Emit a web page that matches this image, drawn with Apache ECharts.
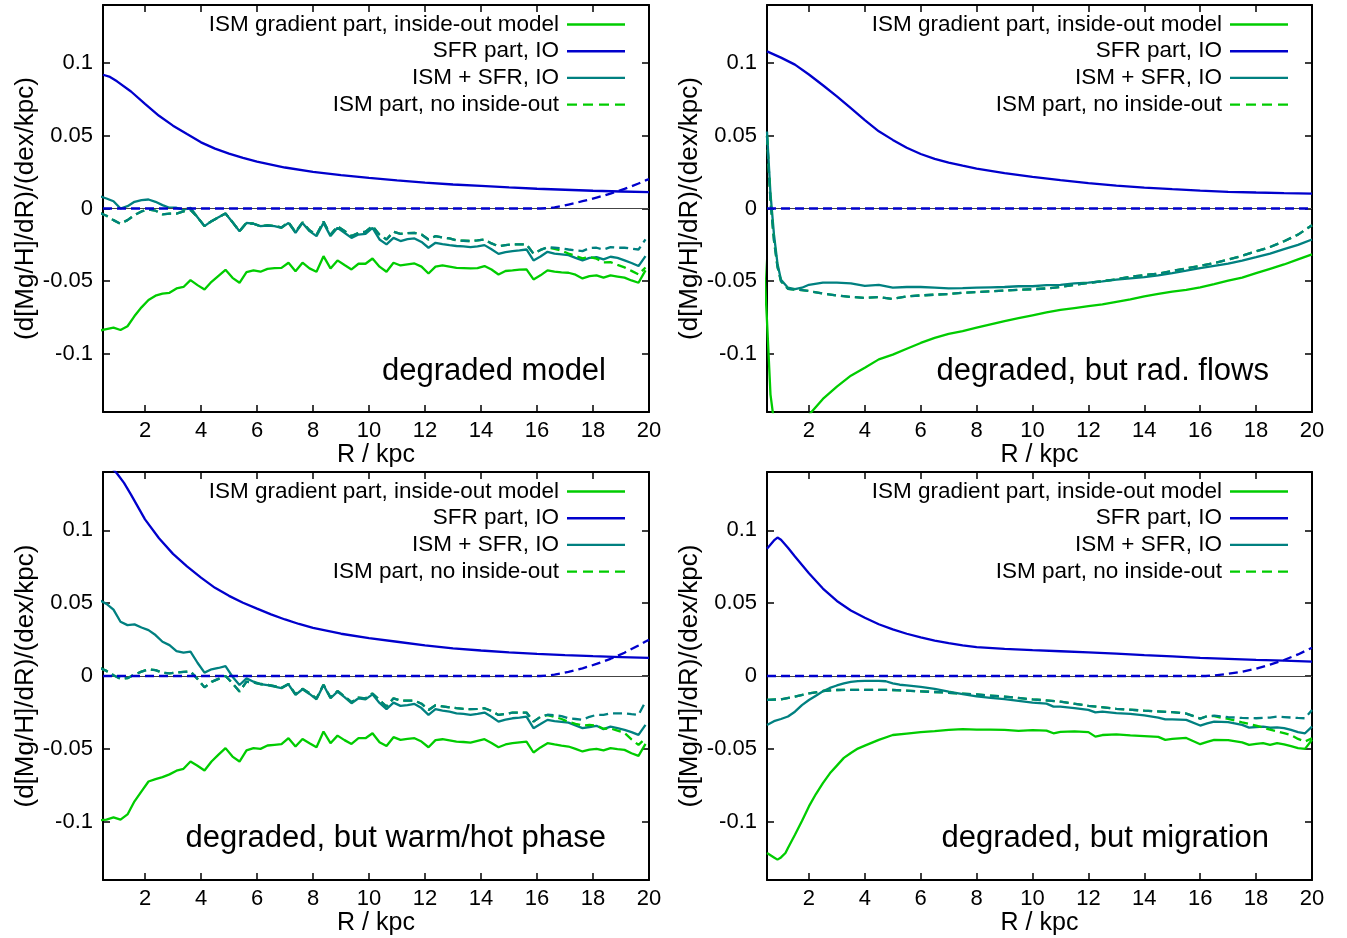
<!DOCTYPE html>
<html><head><meta charset="utf-8">
<script src="https://cdn.jsdelivr.net/npm/echarts@6/dist/echarts.min.js"></script>
<style>html,body{margin:0;padding:0;background:#fff}#c{width:1347px;height:938px}</style>
</head><body><div id="c"></div>
<script>
// ---- tick labels ----
const X_TICKS = [2, 4, 6, 8, 10, 12, 14, 16, 18, 20];
const Y_TICKS = [-0.1, -0.05, 0, 0.05, 0.1];

// ---- series names ----
const N_ISM = 'ISM gradient part, inside-out model';
const N_SFR = 'SFR part, IO';
const N_SUM = 'ISM + SFR, IO';
const N_ISMNO = 'ISM part, no inside-out';
const N_SUMNO = 'ISM + SFR, no inside-out';
const N_SFRNO = 'SFR part, no inside-out';

const PANEL_LABELS = ['degraded model', 'degraded, but rad. flows', 'degraded, but warm/hot phase', 'degraded, but migration'];

// ---- radial grid (kpc) for the jagged profiles of panels 1 and 3 ----
const R = [
 0.375,0.625,0.875,1.125,1.375,1.625,1.875,2.125,2.375,2.625,
 2.875,3.125,3.375,3.625,3.875,4.125,4.375,4.625,4.875,5.125,
 5.375,5.625,5.875,6.125,6.375,6.625,6.875,7.125,7.375,7.625,
 7.875,8.125,8.375,8.625,8.875,9.125,9.375,9.625,9.875,10.125,
 10.375,10.625,10.875,11.125,11.375,11.625,11.875,12.125,12.375,12.625,
 12.875,13.125,13.375,13.625,13.875,14.125,14.375,14.625,14.875,15.125,
 15.375,15.625,15.875,16.125,16.375,16.625,16.875,17.125,17.375,17.625,
 17.875,18.125,18.375,18.625,18.875,19.125,19.375,19.625,19.875];

// ---- panel 1: degraded model ----
const P1_ISM = [
 -0.084,-0.083,-0.082,-0.0836,-0.081,-0.074,-0.068,-0.063,-0.060,-0.0586,
 -0.058,-0.055,-0.054,-0.0493,-0.0527,-0.0557,-0.0504,-0.0463,-0.0422,-0.0477,
 -0.0511,-0.0438,-0.0426,-0.0435,-0.0415,-0.041,-0.0408,-0.0373,-0.0431,-0.0373,
 -0.0412,-0.0435,-0.0328,-0.0412,-0.0357,-0.0389,-0.0419,-0.038,-0.038,-0.0344,
 -0.040,-0.0435,-0.0373,-0.0392,-0.0385,-0.0378,-0.040,-0.0447,-0.040,-0.0392,
 -0.040,-0.0408,-0.041,-0.0412,-0.041,-0.0396,-0.042,-0.0454,-0.043,-0.0426,
 -0.042,-0.0419,-0.0488,-0.046,-0.0426,-0.0435,-0.044,-0.0442,-0.0455,-0.0481,
 -0.0465,-0.046,-0.0476,-0.046,-0.0468,-0.0476,-0.0495,-0.0511,-0.0426];
const P1_SUM = [
 0.0085,0.0069,0.005,0.000,0.0016,0.0046,0.0057,0.0062,0.0046,0.0023,
 0.0005,0.0005,-0.0007,0.0005,-0.006,-0.0121,-0.0087,-0.006,-0.0034,-0.0094,
 -0.0156,-0.0099,-0.0105,-0.0121,-0.0117,-0.0121,-0.0133,-0.0099,-0.0167,-0.0099,
 -0.0156,-0.019,-0.0099,-0.019,-0.0133,-0.0167,-0.0202,-0.0179,-0.0174,-0.0133,
 -0.0213,-0.0247,-0.0202,-0.0224,-0.021,-0.0206,-0.023,-0.027,-0.0236,-0.0245,
 -0.0252,-0.0258,-0.026,-0.0266,-0.026,-0.0252,-0.028,-0.0312,-0.030,-0.0293,
 -0.0288,-0.0282,-0.0357,-0.033,-0.0298,-0.031,-0.0315,-0.0321,-0.034,-0.0357,
 -0.034,-0.0334,-0.035,-0.0332,-0.034,-0.0357,-0.0375,-0.0396,-0.0328];
const P1_SUMNO = [
 -0.003,-0.005,-0.008,-0.0105,-0.008,-0.0045,-0.002,-0.0007,-0.0015,-0.004,
 -0.0035,-0.0035,-0.002,-0.001,-0.006,-0.0121,-0.0087,-0.006,-0.0034,-0.0094,
 -0.0156,-0.0099,-0.0105,-0.0121,-0.0117,-0.0121,-0.013,-0.0095,-0.0162,-0.0095,
 -0.015,-0.0182,-0.009,-0.018,-0.0122,-0.0155,-0.019,-0.0167,-0.016,-0.012,
 -0.018,-0.0213,-0.016,-0.0174,-0.017,-0.0167,-0.0179,-0.0213,-0.019,-0.0199,
 -0.0206,-0.022,-0.0222,-0.0224,-0.022,-0.0213,-0.024,-0.0259,-0.0252,-0.0247,
 -0.0247,-0.0247,-0.0311,-0.0285,-0.0266,-0.027,-0.0274,-0.0282,-0.0288,-0.0293,
 -0.0272,-0.027,-0.0282,-0.0266,-0.027,-0.027,-0.0276,-0.0282,-0.0213];
const P1_ISMNO = [
 -0.003,-0.005,-0.008,-0.0105,-0.008,-0.0045,-0.002,-0.0007,-0.0015,-0.004,
 -0.0035,-0.0035,-0.002,-0.001,-0.006,-0.0121,-0.0087,-0.006,-0.0034,-0.0094,
 -0.0156,-0.0099,-0.0105,-0.0121,-0.0117,-0.0121,-0.013,-0.0095,-0.0162,-0.0095,
 -0.015,-0.0182,-0.009,-0.018,-0.0122,-0.0155,-0.019,-0.0167,-0.016,-0.012,
 -0.018,-0.0213,-0.016,-0.0174,-0.017,-0.0167,-0.0179,-0.0213,-0.019,-0.0199,
 -0.0206,-0.022,-0.0222,-0.0224,-0.022,-0.0213,-0.024,-0.0259,-0.0252,-0.0247,
 -0.0247,-0.0247,-0.0311,-0.0285,-0.0268,-0.0278,-0.029,-0.031,-0.0326,-0.0343,
 -0.0334,-0.0345,-0.037,-0.0369,-0.0388,-0.0405,-0.0429,-0.0454,-0.0406];
const P1_SFR = [[0.5,0.092],[0.75,0.0905],[1,0.0875],[1.5,0.0805],[2,0.072],[2.5,0.0638],[3,0.057],[3.5,0.0512],
 [4,0.0455],[4.5,0.0412],[5,0.0378],[5.5,0.0348],[6,0.0322],[7,0.0282],[8,0.0252],[9,0.0229],[10,0.021],
 [11,0.0193],[12,0.0178],[13,0.0165],[14,0.0155],[15,0.0145],[16,0.0136],[17,0.0129],[18,0.0122],[19,0.0117],[20,0.0112]];
const P1_SFRNO = [[0.5,0],[16.125,0],[16.375,0.0002],[16.625,0.0008],[16.875,0.0016],[17.125,0.0027],[17.375,0.0038],
 [17.625,0.005],[17.875,0.0062],[18.125,0.0075],[18.375,0.0088],[18.625,0.0103],[18.875,0.0118],[19.125,0.0135],
 [19.375,0.0153],[19.625,0.0172],[19.875,0.0193],[20,0.0202]];

// ---- panel 2: degraded, but rad. flows ----
const P2_ISM = [[0.375,-0.03],[0.5,-0.0775],[0.625,-0.128],[0.875,-0.165],[1.25,-0.175],[1.5,-0.168],[2,-0.142],
 [2.5,-0.131],[3,-0.1225],[3.5,-0.115],[4,-0.1095],[4.5,-0.1038],[5,-0.1005],[5.5,-0.0965],[6,-0.0925],
 [6.5,-0.089],[7,-0.0862],[7.5,-0.0843],[8,-0.082],[8.5,-0.0797],[9,-0.0775],[9.5,-0.0755],[10,-0.0735],
 [10.5,-0.0715],[11,-0.0698],[11.5,-0.0685],[12,-0.0672],[12.5,-0.066],[13,-0.0642],[13.5,-0.0625],[14,-0.0605],
 [14.5,-0.0588],[15,-0.0572],[15.5,-0.056],[16,-0.0542],[16.5,-0.052],[17,-0.0497],[17.5,-0.0475],[18,-0.0445],
 [18.5,-0.0415],[19,-0.0385],[19.5,-0.035],[20,-0.0316]];
const P2_SUM = [[0.5,0.053],[0.625,0.01],[0.75,-0.018],[0.875,-0.038],[1,-0.049],[1.25,-0.0545],[1.5,-0.0555],
 [1.75,-0.0545],[2,-0.0525],[2.5,-0.051],[3,-0.051],[3.5,-0.0515],[4,-0.0532],[4.5,-0.0525],[5,-0.0545],
 [5.5,-0.054],[6,-0.054],[6.5,-0.0545],[7,-0.055],[7.5,-0.0548],[8,-0.0545],[8.5,-0.0542],[9,-0.054],
 [9.5,-0.0535],[10,-0.0535],[10.5,-0.0527],[11,-0.0525],[11.5,-0.0515],[12,-0.051],[12.5,-0.0502],[13,-0.049],
 [13.5,-0.048],[14,-0.0472],[14.5,-0.046],[15,-0.0445],[15.5,-0.0428],[16,-0.041],[16.5,-0.0395],[17,-0.038],
 [17.5,-0.0358],[18,-0.0335],[18.5,-0.031],[19,-0.028],[19.5,-0.025],[20,-0.0213]];
const P2_SUMNO = [[0.5,0.05],[0.625,0.005],[0.75,-0.022],[0.875,-0.04],[1,-0.05],[1.25,-0.0552],[1.5,-0.0558],
 [1.75,-0.0562],[2,-0.0568],[2.5,-0.0585],[3,-0.0598],[3.5,-0.0608],[4,-0.0615],[4.5,-0.061],[5,-0.0622],
 [5.5,-0.0605],[6,-0.0598],[6.5,-0.0593],[7,-0.0588],[7.5,-0.058],[8,-0.0575],[8.5,-0.057],[9,-0.0565],
 [9.5,-0.056],[10,-0.0555],[10.5,-0.055],[11,-0.054],[11.5,-0.0525],[12,-0.0512],[12.5,-0.05],[13,-0.0487],
 [13.5,-0.047],[14,-0.0458],[14.5,-0.0448],[15,-0.043],[15.5,-0.0412],[16,-0.0395],[16.5,-0.0375],[17,-0.0352],
 [17.5,-0.0325],[18,-0.0295],[18.5,-0.0265],[19,-0.0225],[19.5,-0.018],[20,-0.0115]];
const P2_ISMNO = [[0.5,0.05],[0.625,0.005],[0.75,-0.022],[0.875,-0.04],[1,-0.05],[1.25,-0.0552],[1.5,-0.0558],
 [1.75,-0.0562],[2,-0.0568],[2.5,-0.0585],[3,-0.0598],[3.5,-0.0608],[4,-0.0615],[4.5,-0.061],[5,-0.0622],
 [5.5,-0.0605],[6,-0.0598],[6.5,-0.0593],[7,-0.0588],[7.5,-0.058],[8,-0.0575],[8.5,-0.057],[9,-0.0565],
 [9.5,-0.056],[10,-0.0555],[10.5,-0.055],[11,-0.054],[11.5,-0.0525],[12,-0.0512],[12.5,-0.05],[13,-0.0487],
 [13.5,-0.047],[14,-0.0458],[14.5,-0.0448],[15,-0.043],[15.5,-0.0412],[16,-0.0395],[16.5,-0.0375],[17,-0.0352],
 [17.5,-0.0325],[18,-0.0295],[18.5,-0.0265],[19,-0.0225],[19.5,-0.018],[20,-0.0115]];
const P2_SFR = [[0.5,0.1081],[1,0.1038],[1.5,0.099],[2,0.0922],[2.5,0.0848],[3,0.0772],[3.5,0.069],[4,0.0608],
 [4.5,0.0531],[5,0.0472],[5.5,0.0418],[6,0.0375],[6.5,0.0342],[7,0.0316],[7.5,0.0295],[8,0.0275],[9,0.0243],
 [10,0.0217],[11,0.0195],[12,0.0175],[13,0.0158],[14,0.0144],[15,0.0133],[16,0.0123],[17,0.0115],[18,0.011],
 [19,0.0106],[20,0.0103]];
const P2_SFRNO = [[0.5,0],[20,0]];

// ---- panel 3: degraded, but warm/hot phase ----
const P3_ISM = [
 -0.099,-0.0985,-0.097,-0.0986,-0.095,-0.086,-0.0792,-0.0724,-0.0708,-0.0694,
 -0.0675,-0.065,-0.0637,-0.0587,-0.0616,-0.0648,-0.0587,-0.054,-0.0495,-0.0553,
 -0.0587,-0.0511,-0.0495,-0.050,-0.0477,-0.0472,-0.0468,-0.0427,-0.0484,-0.0432,
 -0.0461,-0.0489,-0.0381,-0.0461,-0.0409,-0.044,-0.0466,-0.0427,-0.0427,-0.0393,
 -0.0455,-0.048,-0.042,-0.0438,-0.0432,-0.0427,-0.045,-0.0489,-0.044,-0.0434,
 -0.0442,-0.045,-0.0453,-0.0457,-0.0445,-0.0434,-0.046,-0.0489,-0.047,-0.0461,
 -0.0455,-0.045,-0.0525,-0.049,-0.0461,-0.047,-0.0478,-0.0484,-0.050,-0.0518,
 -0.0505,-0.050,-0.0511,-0.0495,-0.0502,-0.0507,-0.053,-0.0548,-0.0466];
const P3_SUM = [
 0.052,0.0495,0.0455,0.0372,0.0349,0.0354,0.0333,0.0315,0.0281,0.0235,
 0.0212,0.0171,0.016,0.0167,0.0091,0.0023,0.0046,0.0055,0.0068,-0.0005,
 -0.0062,-0.0016,-0.0039,-0.0055,-0.0062,-0.0073,-0.0084,-0.0057,-0.013,-0.0091,
 -0.0123,-0.016,-0.0062,-0.0153,-0.0107,-0.0145,-0.0187,-0.0153,-0.016,-0.0126,
 -0.0185,-0.0228,-0.0183,-0.0205,-0.020,-0.0192,-0.022,-0.0267,-0.0228,-0.0238,
 -0.0245,-0.0256,-0.026,-0.0267,-0.026,-0.0251,-0.028,-0.0313,-0.030,-0.029,
 -0.0285,-0.0279,-0.0358,-0.033,-0.0301,-0.031,-0.0315,-0.032,-0.034,-0.0358,
 -0.035,-0.0342,-0.0365,-0.0347,-0.0358,-0.037,-0.0385,-0.0404,-0.0336];
const P3_SUMNO = [
 0.0055,0.0035,0.0005,-0.002,-0.0015,0.001,0.003,0.0046,0.004,0.0023,
 0.0018,0.0023,0.0028,0.003,-0.002,-0.0078,-0.004,-0.002,0.0,-0.005,
 -0.0107,-0.0039,-0.0045,-0.0055,-0.006,-0.007,-0.008,-0.0055,-0.0125,-0.0088,
 -0.0118,-0.0155,-0.006,-0.0148,-0.0103,-0.014,-0.018,-0.0148,-0.0153,-0.012,
 -0.0165,-0.021,-0.0153,-0.0169,-0.0169,-0.0169,-0.019,-0.0233,-0.0201,-0.0208,
 -0.0215,-0.0221,-0.0225,-0.0228,-0.0225,-0.0221,-0.024,-0.0267,-0.026,-0.0251,
 -0.0251,-0.0251,-0.0313,-0.028,-0.0266,-0.027,-0.0275,-0.029,-0.0295,-0.0301,
 -0.028,-0.0267,-0.0267,-0.0256,-0.0256,-0.0256,-0.0262,-0.0267,-0.0176];
const P3_ISMNO = [
 0.0055,0.0035,0.0005,-0.002,-0.0015,0.001,0.003,0.0046,0.004,0.0023,
 0.0018,0.0023,0.0028,0.003,-0.002,-0.0078,-0.004,-0.002,0.0,-0.005,
 -0.0107,-0.0039,-0.0045,-0.0055,-0.006,-0.007,-0.008,-0.0055,-0.0125,-0.0088,
 -0.0118,-0.0155,-0.006,-0.0148,-0.0103,-0.014,-0.018,-0.0148,-0.0153,-0.012,
 -0.0165,-0.021,-0.0153,-0.0169,-0.0169,-0.0169,-0.019,-0.0233,-0.0201,-0.0208,
 -0.0215,-0.0221,-0.0225,-0.0228,-0.0225,-0.0221,-0.024,-0.0267,-0.026,-0.0251,
 -0.0251,-0.0251,-0.0313,-0.028,-0.0268,-0.028,-0.0295,-0.0315,-0.0328,-0.034,
 -0.0335,-0.034,-0.0362,-0.036,-0.0375,-0.039,-0.0435,-0.0473,-0.0427];
const P3_SFR = [[0.5,0.149],[0.75,0.144],[1,0.139],[1.25,0.1325],[1.5,0.1245],[2,0.1075],[2.5,0.0945],[3,0.0838],
 [3.5,0.0752],[4,0.0675],[4.5,0.0605],[5,0.055],[5.5,0.0503],[6,0.0462],[6.5,0.0423],[7,0.0388],[7.5,0.0357],
 [8,0.033],[9,0.029],[10,0.026],[11,0.0235],[12,0.021],[13,0.019],[14,0.0175],[15,0.0162],[16,0.0152],
 [17,0.0143],[18,0.0136],[19,0.013],[20,0.0124]];
const P3_SFRNO = [[0.5,0],[16.125,0],[16.375,0.0003],[16.625,0.001],[16.875,0.0018],[17.125,0.0028],[17.375,0.004],
 [17.625,0.0053],[17.875,0.0067],[18.125,0.0083],[18.375,0.01],[18.625,0.0118],[18.875,0.0138],[19.125,0.016],
 [19.375,0.0185],[19.625,0.021],[19.875,0.0237],[20,0.0248]];

// ---- panel 4: degraded, but migration ----
const P4_ISM = [[0.5,-0.1215],[0.75,-0.1245],[0.875,-0.126],[1,-0.1245],[1.16,-0.1215],[1.25,-0.118],[1.5,-0.109],
 [1.75,-0.0995],[2,-0.0895],[2.25,-0.081],[2.5,-0.0735],[2.75,-0.0668],[3,-0.0615],[3.25,-0.0562],[3.5,-0.0528],
 [3.75,-0.0498],[4,-0.0478],[4.5,-0.0438],[5,-0.0405],[5.5,-0.0395],[6,-0.0385],[6.5,-0.0378],[7,-0.037],
 [7.5,-0.0365],[8,-0.0368],[8.5,-0.0368],[9,-0.037],[9.5,-0.0376],[10,-0.0372],[10.5,-0.0375],[10.75,-0.0393],
 [11,-0.0384],[11.5,-0.038],[12,-0.0385],[12.25,-0.0416],[12.5,-0.0405],[13,-0.04],[13.5,-0.0408],[14,-0.0412],
 [14.5,-0.0418],[14.75,-0.0438],[15,-0.0432],[15.5,-0.0425],[16,-0.0468],[16.25,-0.0452],[16.5,-0.0438],
 [17,-0.044],[17.5,-0.0455],[17.75,-0.0473],[18,-0.0466],[18.25,-0.0461],[18.5,-0.0473],[18.75,-0.0461],
 [19,-0.047],[19.25,-0.0482],[19.5,-0.0495],[19.75,-0.05],[20,-0.0438]];
const P4_SUM = [[0.5,-0.0336],[0.75,-0.031],[1,-0.0295],[1.25,-0.0278],[1.5,-0.0245],[1.75,-0.02],[2,-0.0165],
 [2.25,-0.0135],[2.5,-0.0105],[2.75,-0.0082],[3,-0.0065],[3.25,-0.005],[3.5,-0.004],[3.75,-0.0035],[4,-0.0034],
 [4.5,-0.0034],[4.75,-0.0036],[5,-0.005],[5.25,-0.006],[5.5,-0.0065],[6,-0.0075],[6.5,-0.0088],[7,-0.0107],
 [7.5,-0.0125],[8,-0.014],[8.5,-0.015],[9,-0.0158],[9.5,-0.017],[10,-0.0183],[10.5,-0.019],[10.75,-0.021],
 [11,-0.021],[11.5,-0.022],[12,-0.0232],[12.25,-0.025],[12.5,-0.0245],[13,-0.0255],[13.5,-0.026],[14,-0.027],
 [14.5,-0.0285],[14.75,-0.0298],[15,-0.0298],[15.5,-0.0301],[16,-0.034],[16.25,-0.0325],[16.5,-0.0313],
 [17,-0.0317],[17.5,-0.0335],[17.75,-0.0354],[18,-0.035],[18.25,-0.0347],[18.5,-0.0355],[18.75,-0.0352],
 [19,-0.0358],[19.25,-0.037],[19.5,-0.0385],[19.75,-0.0393],[20,-0.0347]];
const P4_SUMNO = [[0.5,-0.0164],[1,-0.016],[1.5,-0.0142],[2,-0.012],[2.5,-0.0103],[3,-0.0096],[4,-0.0095],
 [5,-0.0096],[6,-0.0105],[7,-0.0115],[8,-0.0127],[9,-0.0142],[10,-0.016],[11,-0.0176],[12,-0.0205],[13,-0.0225],
 [14,-0.0238],[15,-0.0248],[15.5,-0.0258],[16,-0.0292],[16.25,-0.0275],[16.5,-0.0272],[17,-0.0282],[17.5,-0.0288],
 [18,-0.029],[18.5,-0.0285],[18.75,-0.0279],[19,-0.0282],[19.5,-0.0288],[19.75,-0.029],[20,-0.0233]];
const P4_ISMNO = [[0.5,-0.0164],[1,-0.016],[1.5,-0.0142],[2,-0.012],[2.5,-0.0103],[3,-0.0096],[4,-0.0095],
 [5,-0.0096],[6,-0.0105],[7,-0.0115],[8,-0.0127],[9,-0.0142],[10,-0.016],[11,-0.0176],[12,-0.0205],[13,-0.0225],
 [14,-0.0238],[15,-0.0248],[15.5,-0.0258],[16,-0.0292],[16.25,-0.0275],[16.5,-0.0276],[17,-0.0295],[17.5,-0.0318],
 [18,-0.034],[18.5,-0.0368],[19,-0.0392],[19.25,-0.0405],[19.5,-0.0432],[19.75,-0.045],[20,-0.0427]];
const P4_SFR = [[0.5,0.0874],[0.75,0.093],[0.875,0.095],[1,0.0935],[1.25,0.088],[1.5,0.082],[2,0.0705],[2.5,0.06],
 [3,0.0515],[3.5,0.045],[4,0.04],[4.5,0.0355],[5,0.032],[5.5,0.029],[6,0.0265],[6.5,0.0243],[7,0.0225],
 [7.5,0.021],[8,0.0198],[9,0.0186],[10,0.0177],[11,0.017],[12,0.0162],[13,0.0153],[14,0.0143],[15,0.0134],
 [16,0.0125],[17,0.0118],[18,0.0111],[19,0.0105],[20,0.0098]];
const P4_SFRNO = [[0.5,0],[16.2,0],[16.5,0.0004],[17,0.0015],[17.5,0.003],[18,0.005],[18.5,0.0078],[19,0.011],
 [19.5,0.0148],[20,0.0194]];

// ---------------------------------------------------------------
const zip = (xs, ys) => xs.map((x, i) => [x, ys[i]]);
const PANELS = [
  {ism: zip(R, P1_ISM), sfr: P1_SFR, sum: zip(R, P1_SUM), ismNo: zip(R, P1_ISMNO), sumNo: zip(R, P1_SUMNO), sfrNo: P1_SFRNO},
  {ism: P2_ISM, sfr: P2_SFR, sum: P2_SUM, ismNo: P2_ISMNO, sumNo: P2_SUMNO, sfrNo: P2_SFRNO},
  {ism: zip(R, P3_ISM), sfr: P3_SFR, sum: zip(R, P3_SUM), ismNo: zip(R, P3_ISMNO), sumNo: zip(R, P3_SUMNO), sfrNo: P3_SFRNO},
  {ism: P4_ISM, sfr: P4_SFR, sum: P4_SUM, ismNo: P4_ISMNO, sumNo: P4_SUMNO, sfrNo: P4_SFRNO}
];

const FONT = '"Liberation Sans", Arial, Helvetica, sans-serif';
const GREEN = '#00cc00', BLUE = '#0000cc', TEAL = '#008080';
const LW = 2.3;
const W = 1347;
const GRIDS = [
  {left: 103, top: 5, width: 546, height: 407},
  {left: 767, top: 5, width: 545, height: 407},
  {left: 103, top: 472, width: 546, height: 408},
  {left: 767, top: 472, width: 545, height: 408}
];
// legend sample icons (plain line / dashed line)
const ICON_SOLID = 'path://M0,0H58V2.4H0Z';
const ICON_DASH = 'path://M0,0H10V2.4H0Z M16,0H26V2.4H16Z M32,0H42V2.4H32Z M48,0H58V2.4H48Z';

const axisLineStyle = {show: true, onZero: false, lineStyle: {color: '#000', width: 2}};
const tickStyle = (vals) => ({show: true, inside: true, length: 7, customValues: vals, lineStyle: {color: '#000', width: 1.5}});

const xAxes = [], yAxes = [], series = [], legends = [], graphics = [];
GRIDS.forEach((g, i) => {
  xAxes.push({gridIndex: i, type: 'value', min: 0.5, max: 20, position: 'bottom',
    axisLine: axisLineStyle, axisTick: tickStyle(X_TICKS), splitLine: {show: false},
    axisLabel: {show: true, customValues: X_TICKS, fontSize: 22, color: '#000', fontFamily: FONT, margin: 8},
    name: 'R / kpc', nameLocation: 'middle', nameGap: 28,
    nameTextStyle: {fontSize: 25, color: '#000', fontFamily: FONT}});
  xAxes.push({gridIndex: i, type: 'value', min: 0.5, max: 20, position: 'top',
    axisLine: axisLineStyle, axisTick: tickStyle(X_TICKS), splitLine: {show: false},
    axisLabel: {show: false}});
  yAxes.push({gridIndex: i, type: 'value', min: -0.14, max: 0.14, position: 'left',
    axisLine: axisLineStyle, axisTick: tickStyle(Y_TICKS), splitLine: {show: false},
    axisLabel: {show: true, customValues: Y_TICKS, fontSize: 22, color: '#000', fontFamily: FONT, margin: 10},
    name: '(d[Mg/H]/dR)/(dex/kpc)', nameLocation: 'middle', nameRotate: 90, nameGap: 64,
    nameTextStyle: {fontSize: 26, color: '#000', fontFamily: FONT}});
  yAxes.push({gridIndex: i, type: 'value', min: -0.14, max: 0.14, position: 'right',
    axisLine: axisLineStyle, axisTick: tickStyle(Y_TICKS), splitLine: {show: false},
    axisLabel: {show: false}});

  const p = PANELS[i];
  const mk = (name, data, color, dashed, z) => ({
    type: 'line', name, data, xAxisIndex: 2 * i, yAxisIndex: 2 * i,
    symbol: 'none', showSymbol: false, silent: true, animation: false, clip: true, z,
    emphasis: {disabled: true},
    lineStyle: {color, width: LW, type: dashed ? [9, 5] : 'solid'},
    itemStyle: {color}
  });
  // zero line
  series.push({type: 'line', name: 'zero', data: [], xAxisIndex: 2 * i, yAxisIndex: 2 * i, z: 1, silent: true,
    animation: false,
    markLine: {silent: true, symbol: ['none', 'none'], animation: false, label: {show: false},
      lineStyle: {color: '#444', width: 1, type: 'solid'}, emphasis: {disabled: true}, data: [{yAxis: 0}]}});
  series.push(mk(N_ISM, p.ism, GREEN, false, 2));
  series.push(mk(N_SFR, p.sfr, BLUE, false, 3));
  series.push(mk(N_SUM, p.sum, TEAL, false, 4));
  series.push(mk(N_ISMNO, p.ismNo, GREEN, true, 5));
  series.push(mk(N_SUMNO, p.sumNo, TEAL, true, 6));
  series.push(mk(N_SFRNO, p.sfrNo, BLUE, true, 7));

  legends.push({orient: 'vertical', align: 'right', right: W - (g.left + g.width - 24), top: g.top + 8,
    padding: 0, itemGap: 3.7, itemWidth: 58, itemHeight: 14, selectedMode: false, symbolKeepAspect: true,
    itemStyle: {borderWidth: 0}, lineStyle: {width: 0},
    textStyle: {fontSize: 22.5, color: '#000', fontFamily: FONT, padding: [0, 3, 0, 0]},
    data: [{name: N_ISM, icon: ICON_SOLID}, {name: N_SFR, icon: ICON_SOLID},
           {name: N_SUM, icon: ICON_SOLID}, {name: N_ISMNO, icon: ICON_DASH}]});

  graphics.push({type: 'text', x: g.left + g.width - 43, y: g.top + 366, silent: true,
    style: {text: PANEL_LABELS[i], fontSize: 31, fontFamily: FONT, fill: '#000',
      align: 'right', verticalAlign: 'middle'}});
});

const chart = echarts.init(document.getElementById('c'), null, {renderer: 'canvas'});
chart.setOption({
  animation: false,
  backgroundColor: '#fff',
  grid: GRIDS.map(g => Object.assign({show: false}, g)),
  xAxis: xAxes,
  yAxis: yAxes,
  legend: legends,
  series: series,
  graphic: graphics
});
</script>
</body></html>
